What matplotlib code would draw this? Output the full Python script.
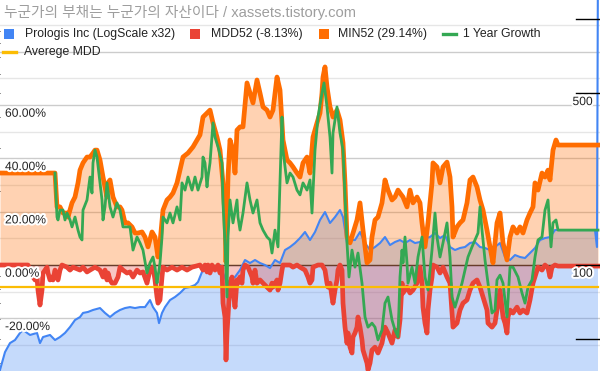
import numpy as np
import matplotlib
matplotlib.use("Agg")
import matplotlib.pyplot as plt
from matplotlib import transforms
from matplotlib.patches import Rectangle
from matplotlib.lines import Line2D
import matplotlib.patheffects as pe

plt.rcParams['font.family'] = ['Liberation Sans', 'Noto Sans CJK KR', 'DejaVu Sans']

# ---------------- data ----------------
title = '누군가의 부채는 누군가의 자산이다 / xassets.tistory.com'
series_names = ['Prologis Inc (LogScale x32)', 'MDD52 (-8.13%)', 'MIN52 (29.14%)',
                '1 Year Growth', 'Averege MDD']
colors = ['#4285F4', '#EA4335', '#FF6D01', '#34A853', '#FBBC04']

# Prologis price (log scale, right axis)
price_week = [0, 5, 10, 15, 20, 23, 30, 37, 40, 43, 50, 55, 60, 65, 70, 75, 80, 83, 88, 93,
              100, 105, 110, 115, 120, 125, 130, 135, 140, 145, 150, 153, 157, 159, 162, 165,
              170, 175, 180, 185, 190, 195, 198, 202, 205, 210, 215, 220, 227, 230, 235, 240,
              245, 250, 255, 260, 265, 270, 275, 280, 285, 290, 295, 300, 305, 310, 315, 320,
              325, 330, 335, 340, 343, 347, 350, 355, 360, 365, 370, 375, 380, 385, 390, 395,
              400, 405, 410, 415, 420, 425, 430, 435, 440, 445, 450, 455, 460, 465, 470, 475,
              480, 485, 490, 495, 500, 505, 510, 515, 520, 525, 530, 535, 540, 545, 550, 555,
              595, 597, 598]
price = [37.4, 44.2, 48.1, 49.5, 52.9, 54.4, 51.9, 52.9, 48.1, 50.9, 51.9, 49.5, 50.9, 52.9,
         55.9, 59.7, 61.4, 63.8, 64.4, 65.6, 66.8, 63.8, 61.4, 63.8, 65.6, 66.8, 67.4, 66.8,
         67.4, 67.4, 72.0, 67.4, 63.8, 58.0, 63.8, 67.4, 72.0, 74.1, 76.9, 80.6, 81.4, 82.9,
         85.3, 93.7, 97.2, 95.4, 98.1, 100.0, 84.5, 86.9, 89.4, 95.4, 104.8, 101.9, 104.8,
         101.9, 100.0, 97.2, 104.8, 101.9, 115.1, 118.4, 122.9, 128.8, 136.3, 126.4, 136.3,
         152.5, 164.3, 148.3, 156.8, 167.5, 156.8, 122.9, 126.4, 126.4, 136.3, 122.9, 115.1,
         118.4, 122.9, 130.0, 120.6, 124.1, 126.4, 122.9, 126.4, 122.9, 124.1, 128.8, 130.0,
         135.0, 128.8, 132.5, 118.4, 115.1, 117.3, 118.4, 122.9, 124.1, 118.4, 117.3, 115.1,
         118.4, 122.9, 107.8, 104.8, 109.8, 107.8, 106.8, 111.9, 117.3, 126.4, 128.8, 130.0,
         138.8, 138.8, 118.4, 2000.0]

# MDD52 (%)
mdd_week = [0, 28, 30, 33, 35, 37, 38, 40, 42, 43, 47, 48, 50, 52, 53, 55, 57, 58, 60, 62, 67,
            70, 73, 80, 83, 87, 90, 95, 100, 103, 105, 107, 108, 110, 112, 115, 118, 120, 123,
            127, 130, 133, 137, 140, 143, 147, 150, 153, 155, 157, 158, 160, 162, 163, 167,
            172, 177, 182, 187, 192, 200, 203, 205, 207, 208, 210, 212, 215, 218, 220, 222,
            223, 225, 226, 227, 229, 230, 232, 233, 235, 237, 238, 240, 242, 243, 245, 248,
            252, 253, 255, 257, 260, 263, 267, 270, 272, 273, 277, 278, 280, 282, 283, 287,
            290, 293, 297, 300, 305, 308, 310, 312, 313, 318, 322, 325, 327, 328, 330, 332,
            333, 335, 337, 338, 340, 342, 343, 345, 347, 348, 350, 352, 353, 355, 357, 358,
            360, 362, 363, 367, 368, 370, 372, 375, 378, 382, 385, 388, 392, 395, 398, 400,
            402, 403, 407, 410, 413, 417, 420, 422, 423, 425, 427, 428, 430, 432, 433, 437,
            440, 443, 447, 450, 452, 453, 457, 460, 463, 467, 470, 473, 477, 480, 483, 487,
            488, 492, 495, 498, 500, 503, 505, 507, 508, 510, 513, 517, 520, 523, 527, 530,
            533, 537, 538, 542, 545, 548, 550, 552, 555, 558, 598]
mdd = [0, 0, -1.9, -4.5, -5.6, -4.5, -9.4, -15.0, -9.4, -3.0, -0.8, -3.0, -5.6, -4.5, -5.6,
       -1.9, -4.5, -5.6, -1.9, 0, -0.8, -1.9, -0.8, -1.9, -0.8, -2.6, -1.9, -0.8, -1.9, -4.5,
       -1.9, -5.6, -3.0, -5.6, -6.8, -6.8, -4.5, -0.8, -1.9, -3.0, -2.6, -4.5, -1.9, -3.0,
       -2.6, -6.8, -1.9, -0.8, -5.6, -12.0, -14.3, -13.1, -4.5, -0.8, -1.9, -0.8, -1.9, -0.8,
       -1.9, -0.8, 0, -1.9, 0, -2.6, 0, -3.0, 0, -1.9, 0, -3.0, -0.8, -14.3, -19.5, -35.6,
       -25.5, -13.1, -6.8, -4.5, -9.4, -15.8, -5.6, -6.8, -4.5, -6.8, -1.9, 0, -0.8, -4.5,
       -6.8, -1.9, -6.8, -5.6, -6.8, -8.3, -9.4, -6.8, -8.3, -5.6, -9.4, -6.8, -1.9, 0, 0, 0,
       -0.8, 0, -0.8, -1.9, -4.5, -6.8, -5.6, -0.8, 0, 0, -1.9, -6.8, -8.3, -6.8, -12.0,
       -14.3, -9.4, -5.6, -1.9, 0, -1.9, -14.3, -23.3, -29.3, -25.5, -30.8, -33.0, -27.0,
       -25.5, -23.3, -19.5, -23.3, -28.1, -31.9, -36.8, -39.4, -36.8, -31.9, -30.8, -33.0,
       -29.3, -23.3, -25.5, -29.3, -24.4, -27.0, -20.6, -6.8, -10.5, -8.3, -10.5, -9.4,
       -6.8, -0.8, -6.8, -15.8, -21.8, -25.5, -16.9, -9.4, -4.5, 0, -0.8, -3.0, -0.8, -4.5,
       -6.8, -18.0, -23.3, -21.8, -16.9, -14.3, -13.1, -9.4, -6.8, -5.6, -8.3, -12.0, -16.9,
       -21.8, -23.3, -21.8, -14.3, -9.4, -19.5, -21.8, -25.5, -19.5, -16.9, -18.0, -15.8,
       -18.0, -16.9, -18.0, -13.1, -6.8, -1.9, -0.8, -1.9, 0, -1.1, -4.5, -0.8, 0, -0.4, -0.4]

# MIN52 (%)
min_week = [0, 55, 57, 60, 63, 67, 68, 72, 75, 78, 80, 83, 87, 90, 93, 95, 97, 100, 103, 105,
            107, 108, 110, 113, 117, 120, 122, 125, 128, 132, 135, 138, 142, 145, 148, 152,
            155, 158, 160, 163, 167, 170, 173, 177, 180, 183, 188, 193, 197, 200, 203, 207,
            210, 213, 217, 220, 223, 225, 226, 228, 230, 233, 235, 237, 240, 243, 247, 250,
            253, 257, 260, 263, 267, 270, 273, 277, 280, 283, 287, 290, 293, 297, 300, 303,
            307, 310, 313, 317, 320, 322, 323, 325, 327, 330, 333, 337, 340, 343, 345, 347,
            350, 353, 357, 360, 363, 367, 370, 372, 375, 378, 382, 385, 388, 392, 395, 398,
            400, 403, 407, 410, 413, 417, 420, 422, 425, 428, 432, 433, 437, 440, 443, 447,
            450, 452, 453, 457, 460, 463, 467, 470, 473, 477, 480, 483, 487, 490, 493, 497,
            500, 503, 507, 510, 513, 517, 520, 523, 527, 530, 533, 535, 538, 542, 545, 548,
            550, 553, 556, 558, 598]
min52 = [34.5, 34.5, 21.8, 21.8, 19.5, 19.5, 18.0, 23.3, 25.5, 30.8, 35.6, 38.3, 40.5, 40.5,
         42.0, 43.1, 43.1, 39.4, 33.0, 29.3, 25.5, 30.8, 31.9, 25.5, 21.8, 21.8, 20.6, 15.8,
         15.8, 14.3, 12.0, 12.0, 12.4, 10.5, 6.8, 12.4, 10.5, 3.0, 8.3, 20.6, 24.4, 25.5,
         27.0, 30.8, 35.6, 40.5, 42.0, 44.3, 46.9, 48.8, 55.5, 57.0, 58.1, 53.3, 48.0, 43.1,
         30.8, 18.0, 1.1, 33.0, 46.9, 43.1, 34.5, 50.6, 51.8, 51.8, 68.3, 64.5, 60.8, 69.4,
         64.5, 59.3, 58.1, 55.5, 58.1, 70.5, 65.6, 46.9, 39.4, 38.3, 36.8, 34.5, 33.0, 38.3,
         40.5, 34.5, 48.0, 53.3, 57.0, 64.5, 70.5, 74.3, 66.8, 59.3, 55.5, 58.1, 54.4, 45.8,
         30.8, 10.5, 8.3, 12.0, 16.9, 23.3, 13.1, 0.8, 1.9, 10.5, 16.9, 18.0, 23.3, 31.9,
         28.1, 24.4, 25.5, 28.1, 27.0, 25.5, 21.8, 28.1, 23.3, 25.5, 23.3, 15.8, 6.8, 15.8,
         30.8, 38.3, 36.8, 30.8, 36.8, 38.6, 33.0, 21.8, 10.5, 14.3, 15.8, 16.9, 23.3, 31.9,
         33.0, 29.3, 24.4, 20.6, 13.1, 6.8, 0.8, 15.8, 19.5, 8.3, 1.9, 10.5, 14.3, 12.0,
         14.3, 12.0, 16.9, 19.5, 21.8, 30.8, 28.1, 34.5, 33.0, 35.6, 31.9, 43.1, 46.9, 45.0,
         45.0]

# 1 Year Growth (%)
growth_week = [55, 57, 58, 60, 63, 65, 67, 70, 72, 75, 78, 80, 82, 83, 87, 90, 92, 93, 95, 97,
               100, 102, 103, 105, 107, 110, 113, 117, 120, 123, 127, 130, 133, 137, 140, 143,
               147, 150, 153, 155, 157, 158, 160, 162, 163, 167, 170, 173, 177, 180, 182, 185,
               188, 192, 195, 198, 202, 203, 205, 207, 208, 210, 213, 215, 218, 222, 223, 225,
               227, 228, 230, 233, 237, 238, 240, 243, 247, 250, 253, 257, 260, 263, 267, 270,
               272, 275, 278, 280, 282, 283, 287, 290, 293, 297, 300, 303, 307, 310, 312, 315,
               318, 322, 324, 327, 330, 332, 333, 337, 340, 343, 347, 349, 352, 355, 358, 362,
               365, 368, 372, 375, 378, 382, 385, 388, 392, 395, 398, 400, 402, 403, 405, 407,
               408, 412, 415, 418, 422, 423, 425, 428, 432, 435, 437, 440, 443, 447, 450, 452,
               455, 458, 462, 465, 468, 472, 475, 478, 480, 482, 485, 488, 492, 495, 497, 500,
               503, 507, 510, 513, 518, 522, 525, 528, 532, 535, 538, 542, 545, 548, 551, 553,
               556, 558, 598]
growth = [34.5, 18.0, 16.9, 20.6, 20.6, 16.9, 19.5, 16.9, 14.3, 18.0, 13.1, 10.5, 9.4, 20.6,
          24.4, 33.0, 27.0, 38.3, 43.1, 40.5, 30.8, 24.4, 16.9, 21.8, 30.8, 21.8, 18.0, 23.3,
          20.6, 14.3, 14.3, 14.3, 5.6, 10.5, 8.3, 5.6, -3.0, 0.8, 3.0, -0.8, -6.8, -4.5, 0.8,
          10.5, 18.0, 15.8, 19.5, 15.8, 21.8, 16.9, 30.8, 28.1, 33.0, 28.1, 33.0, 28.1, 33.0,
          40.5, 38.3, 29.3, 33.0, 38.3, 53.3, 48.0, 44.3, 38.3, 23.3, 8.3, -12.0, 10.5, 24.4,
          15.8, 24.4, 18.0, 13.1, 19.5, 30.8, 24.4, 19.5, 24.4, 15.8, 13.1, 10.5, 9.4, 4.5,
          13.1, 6.8, 30.8, 55.5, 43.1, 30.8, 34.5, 33.0, 28.1, 26.3, 30.8, 28.1, 31.9, 19.5,
          43.1, 55.5, 64.5, 68.3, 59.3, 48.0, 34.5, 49.5, 59.3, 49.5, 43.1, 8.3, -4.5, 5.6,
          -0.8, 4.5, -6.8, -19.5, -23.3, -21.8, -23.3, -28.1, -24.4, -14.3, -12.0, -20.6,
          -24.4, -27.0, -4.5, 5.6, 0.8, 10.5, 0.8, -6.8, -0.8, -6.8, 3.0, 10.5, 5.6, -4.5,
          -9.4, 5.6, 19.5, 10.5, 3.0, 8.3, 15.8, 3.0, -12.0, -15.8, -12.0, -6.8, -1.9, 3.0,
          6.8, 9.4, 12.0, 21.8, 13.1, 1.9, -6.8, -18.0, -16.9, -5.6, -3.8, -6.8, -19.5, -0.8,
          -0.8, -4.5, -10.5, -14.3, -8.3, -5.6, 3.0, 9.4, 10.5, 20.6, 24.4, 6.8, 15.8, 16.9,
          13.1, 13.1]

avg_mdd = -8.13

pct_ticks = [60, 40, 20, 0, -20]
price_ticks = [50, 100, 500, 1000]
price_tick_labels = ['', '100', '500', '']

# ---------------- layout ----------------
W, H = 600, 371
fig = plt.figure(figsize=(W / 100, H / 100), dpi=100)
fig.patch.set_facecolor('white')

pct_lim = (-39.75, 99.4)
x_lim = (0, 600)

ax_p = fig.add_axes([0, 0, 1, 1])          # log price scale (right axis)
ax = ax_p.twinx()                           # percent scale
ax_p.set_yscale('log')
ax_p.set_ylim(100 * np.exp(pct_lim[0] / 40), 100 * np.exp(pct_lim[1] / 40))
ax.set_ylim(*pct_lim)
ax.set_xlim(*x_lim)
for a in (ax, ax_p):
    a.set_xticks([])
    a.set_yticks([])
    for s in a.spines.values():
        s.set_visible(False)
ax_p.set_facecolor('white')

# gridlines
for g in range(-30, 100, 10):
    ax.axhline(g, color='#cccccc' if g % 20 == 0 else '#e6e6e6', lw=1, zorder=0.5)
ax.axhline(0, color='#333333', lw=1, zorder=1.5)

ptrans = ax_p.transData
# Prologis area + line (price scale)
ax.fill_between(price_week, 1, price, color=colors[0], alpha=0.3, lw=0, zorder=1,
                transform=ptrans)
ax.fill_between(mdd_week, 0, mdd, color=colors[1], alpha=0.3, lw=0, zorder=2)
ax.fill_between(min_week, 0, min52, color=colors[2], alpha=0.3, lw=0, zorder=2)
ax.plot(price_week, price, color=colors[0], lw=1.5, zorder=3, transform=ptrans)
ax.plot(mdd_week, mdd, color=colors[1], lw=3.4, zorder=4, solid_joinstyle='round')
ax.plot(min_week, min52, color=colors[2], lw=3.4, zorder=5, solid_joinstyle='round')
ax.plot(growth_week, growth, color=colors[3], lw=2.0, zorder=6, solid_joinstyle='round')
ax.plot([min_week[0], min_week[-1]], [avg_mdd, avg_mdd], color=colors[4], lw=1.6, zorder=7)

halo = [pe.withStroke(linewidth=3, foreground='white')]
lab_tr = transforms.blended_transform_factory(ax.transAxes, ax.transData)
for v in pct_ticks:
    ax.text(0, v, f'{v:.2f}%', transform=lab_tr + transforms.ScaledTranslation(5 / 100, -8.7 / 100, fig.dpi_scale_trans),
            ha='left', va='center', fontsize=8.7, color='#222222', zorder=10, path_effects=halo)

rtr = transforms.blended_transform_factory(ax_p.transAxes, ax_p.transData)
for v, lab in zip(price_ticks, price_tick_labels):
    ax.add_line(Line2D([0.96, 1.0], [v, v], transform=rtr, color='black', lw=1, zorder=9, clip_on=False))
    if lab:
        ax.text(1, v, lab, transform=rtr + transforms.ScaledTranslation(-7 / 100, -8.7 / 100, fig.dpi_scale_trans),
                ha='right', va='center', fontsize=8.7, color='#222222', zorder=10, path_effects=halo)

# ---------------- title & legend ----------------
def fx(x):
    return x / W

def fy(y):
    return 1 - y / H

fig.text(fx(4), fy(12.5), title, fontsize=10.6, color='#9e9e9e', ha='left', va='center')

row1, row2 = 34.3, 52.0
legend_items = [
    (series_names[0], 'square', 4, row1, 25),
    (series_names[1], 'square', 190, row1, 211),
    (series_names[2], 'square', 318.5, row1, 338),
    (series_names[3], 'line', 443, row1, 463),
    (series_names[4], 'line', 3, row2, 24),
]
for (name, kind, mx, my, tx), c in zip(legend_items, colors):
    if kind == 'square':
        fig.patches.append(Rectangle((fx(mx), fy(my + 5)), 10 / W, 10 / H, transform=fig.transFigure,
                                     facecolor=c, edgecolor='none'))
    else:
        fig.lines.append(Line2D([fx(mx), fx(mx + 13)], [fy(my), fy(my)], transform=fig.transFigure,
                                color=c, lw=2.4))
    fig.text(fx(tx), fy(my), name, fontsize=8.8, color='#222222', ha='left', va='center')

fig.savefig('out.png', dpi=100, facecolor='white')
